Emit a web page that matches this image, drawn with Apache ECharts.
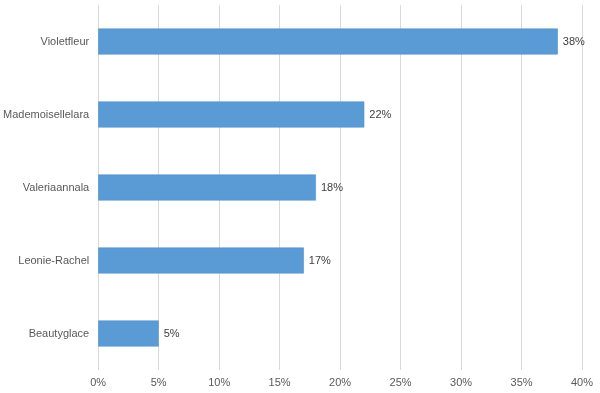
<!DOCTYPE html>
<html><head><meta charset="utf-8">
<script src="https://cdn.jsdelivr.net/npm/echarts@6/dist/echarts.min.js"></script>
<style>html,body{margin:0;padding:0;background:#fff}#c{width:600px;height:393px}</style>
</head><body><div id="c"></div>
<script>
const categories = ["Violetfleur", "Mademoisellelara", "Valeriaannala", "Leonie-Rachel", "Beautyglace"];
const values = [38, 22, 18, 17, 5];
const xMin = 0, xMax = 40, xStep = 5;

const chart = echarts.init(document.getElementById('c'), null, {renderer: 'canvas'});
chart.setOption({
  animation: false,
  backgroundColor: '#ffffff',
  grid: {left: 97, right: 18, top: 5, bottom: 23, containLabel: false},
  xAxis: {
    type: 'value', min: xMin, max: xMax, interval: xStep,
    axisLine: {show: false}, axisTick: {show: false},
    splitLine: {show: true, lineStyle: {color: '#d9d9d9', width: 1}},
    axisLabel: {formatter: '{value}%', color: '#595959', fontSize: 11, fontFamily: 'Liberation Sans, Arial, sans-serif', margin: 7}
  },
  yAxis: {
    type: 'category', data: categories, inverse: true,
    axisLine: {show: false}, axisTick: {show: false}, splitLine: {show: false},
    axisLabel: {color: '#595959', fontSize: 11, fontFamily: 'Liberation Sans, Arial, sans-serif', margin: 9}
  },
  series: [{
    type: 'bar', data: values, barWidth: 26,
    itemStyle: {color: '#5b9bd5', borderColor: '#4a8ac4', borderWidth: 0.5},
    label: {show: true, position: 'right', formatter: '{c}%', color: '#404040', fontSize: 11, fontFamily: 'Liberation Sans, Arial, sans-serif', distance: 5}
  }]
});
</script></body></html>
